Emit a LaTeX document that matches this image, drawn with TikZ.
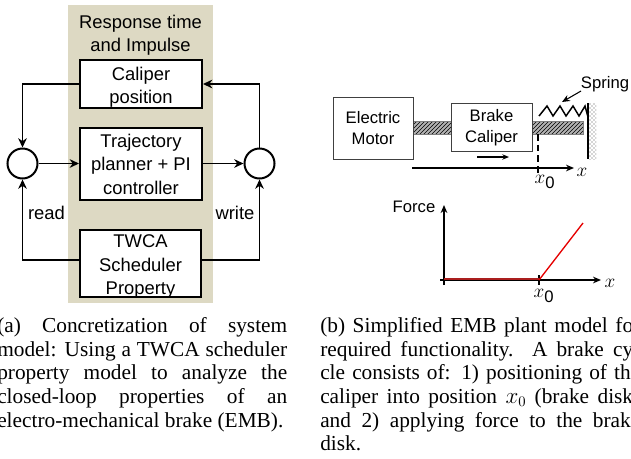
\documentclass[tikz,border=0pt]{standalone}
\usepackage{fontspec}
\setmainfont{Liberation Sans}
\newfontfamily\capfont{Liberation Serif}
\usetikzlibrary{patterns,arrows.meta}
\tikzset{
  x=0.75pt,y=-0.75pt,
  bigtext/.style={font=\fontsize{13.8}{17.6}\selectfont,align=center,inner sep=0pt},
  plainbox/.style={draw=black,line width=1.5pt,fill=white,inner sep=0pt},
  sumnode/.style={draw=black,line width=1.5pt,circle,fill=white,minimum size=22.5pt,inner sep=0pt},
  conn/.style={line width=1.25pt,-{Stealth[length=7pt,width=6.5pt]}},
  plant/.style={draw=black!75,line width=0.7pt,fill=white,inner sep=0pt},
  planttext/.style={inner sep=0pt,font=\fontsize{12.5}{15.5}\selectfont,align=center},
  lab/.style={font=\fontsize{12.5}{15}\selectfont,inner sep=0pt},
  mathlab/.style={font=\fontsize{14}{16}\selectfont,inner sep=0pt},
  hatch/.style={preaction={fill=black!30},pattern=north east lines,pattern color=black,draw=black!50,line width=0.3pt},
  captext/.style={font=\capfont\fontsize{16}{17.8}\selectfont,anchor=north west,inner sep=0pt,align=justify},
  axis/.style={line width=1.1pt,-{Stealth[length=6pt,width=5pt]}}
}
\begin{document}
\begin{tikzpicture}
\useasboundingbox (0,0) rectangle (631,458);
\clip (0,0) rectangle (631,458);
% left diagram
\fill[fill={rgb,255:red,221;green,217;blue,195}] (68,5) rectangle (213,303);
\node[bigtext] (title) at (140.5,35) {Response time\\and Impulse};
\node[plainbox,minimum width=91.5pt,minimum height=36pt] (cal) at (141,84) {};
\node[bigtext] (caltext) at (141,87) {Caliper\\position};
\node[plainbox,minimum width=91.5pt,minimum height=54pt] (traj) at (141,163.5) {};
\node[bigtext] (trajtext) at (141,164) {Trajectory\\planner + PI\\controller};
\node[plainbox,minimum width=91pt,minimum height=50pt] (twca) at (140.5,263.5) {};
\node[bigtext] (twcatext) at (140.5,266.5) {TWCA\\Scheduler\\Property};
\node[sumnode] (sl) at (22.5,163.5) {};
\node[sumnode] (sr) at (259.5,163.5) {};
\coordinate (twl) at (80,260);
\coordinate (twr) at (201,260);
\draw[conn] (cal.west) -| (sl.north);
\draw[conn] (twl) -| (sl.south);
\draw[conn] (sl.east) -- (traj.west);
\draw[conn] (traj.east) -- (sr.west);
\draw[conn] (twr) -| (sr.south);
\draw[conn] (sr.north) |- (cal.east);
\node[bigtext] (read) at (46.5,213) {read};
\node[bigtext] (write) at (235,213) {write};
% plant
\draw[hatch] (413,121) rectangle (451,134);
\draw[hatch] (532,121) rectangle (583,134);
\node[plant,minimum width=60pt,minimum height=46.5pt] (motor) at (373,128) {};
\node[planttext] (motortext) at (373,128) {Electric\\Motor};
\node[plant,minimum width=60.75pt,minimum height=36pt] (brake) at (491.5,127) {};
\node[planttext] (braketext) at (491.5,128) {Brake\\Caliper};
\fill[pattern=crosshatch dots,pattern color=black!70] (589,103) rectangle (596,159);
\draw[line width=1.5pt] (588,103) coordinate (wt) -- (588,159) coordinate (wb);
\draw[line width=1.1pt] (539,116) -- (547,106) -- (553,116) -- (560,106) -- (566,116) -- (573,106) -- (579,116) -- (585,106) -- (588,117);
\coordinate (ma) at (477,157); \coordinate (mb) at (509,157);
\draw[line width=0.9pt,-{Stealth[length=5pt,width=4pt]}] (ma) -- (mb);
\coordinate (ax) at (412,168);
\node[mathlab] (xl) at (582,172) {$x$};
\draw[axis] (ax) -- (574,168);
\coordinate (dt) at (538,134);
\node[mathlab] (x0a) at (545,182) {$x_{\mbox{\fontsize{12.5}{14}\selectfont 0}}$};
\draw[line width=1.2pt,dash pattern=on 5pt off 3pt] (dt) -- (538,175);
\node[lab] (spring) at (605,84) {Spring};
\coordinate (sp) at (562,102);
\draw[line width=0.8pt,-{Stealth[length=6pt,width=5pt]}] (581,91) -- (sp);
% force graph
\node[lab] (force) at (414,207) {Force};
\coordinate (o) at (444,280);
\draw[axis] (444,285) -- (444,205);
\draw[axis] (440,280) -- (601,280);
\draw[line width=1pt] (539,275) coordinate (tk) -- (539,285);
\draw[line width=1.4pt,draw={rgb,255:red,170;green,30;blue,30}] (o) ++(0,-1) -- (539,279);
\draw[line width=1pt,red!90!black] (539,280) -- (583,223);
\node[mathlab] (x0b) at (544,296) {$x_{\mbox{\fontsize{12.5}{14}\selectfont 0}}$};
\node[mathlab] (xb) at (610,283) {$x$};
% captions
\node[captext,text width=217.5pt] (capa) at (-3,317) {(a) Concretization of system\linebreak model: Using a TWCA scheduler\linebreak property model to analyze the\linebreak closed-loop properties of an\linebreak electro-mechanical brake (EMB).};
\node[captext,text width=240pt] (capb) at (320,317) {(b) Simplified EMB plant model for\linebreak required functionality. A brake cy-\linebreak cle consists of: 1) positioning of the\linebreak caliper into position $x_0$ (brake disk)\linebreak and 2) applying force to the brake\linebreak disk.};
\end{tikzpicture}
\end{document}
